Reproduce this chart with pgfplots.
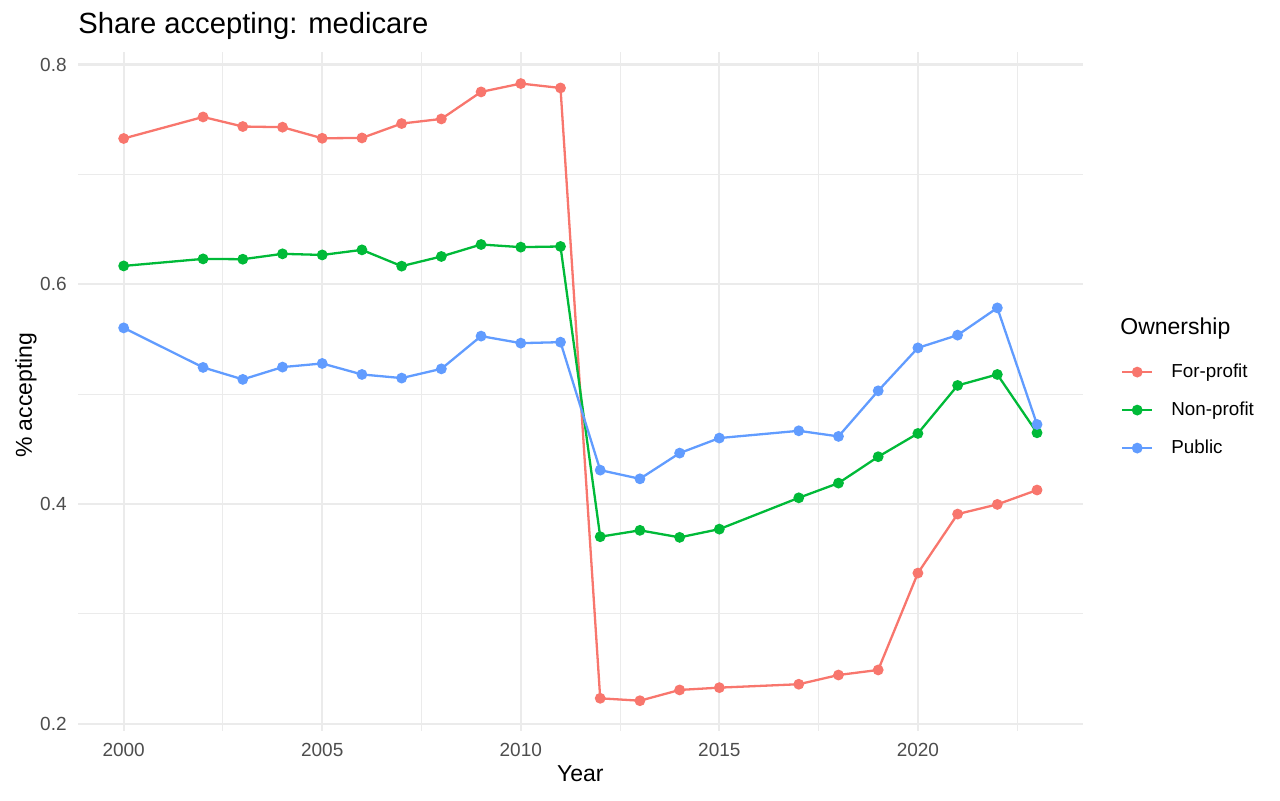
\documentclass[border=0pt]{standalone}
\usepackage{fontspec}
\setmainfont{Liberation Sans}
\usepackage{pgfplots}
\pgfplotsset{compat=1.18}

\definecolor{forprofit}{HTML}{F8766D}
\definecolor{nonprofit}{HTML}{00BA38}
\definecolor{public}{HTML}{619CFF}
\definecolor{gridgray}{HTML}{EBEBEB}
\definecolor{ticktext}{HTML}{4D4D4D}

\begin{document}
\begin{tikzpicture}
\path[use as bounding box] (-39pt,-34.65pt) rectangle (601pt,365.35pt);
\begin{axis}[
  at={(0,0)}, anchor=south west,
  scale only axis,
  width=502.35pt, height=339.5pt,
  xmin=1998.85, xmax=2024.15,
  ymin=0.1936, ymax=0.8117,
  xtick={2000,2005,2010,2015,2020},
  ytick={0.2,0.4,0.6,0.8},
  minor xtick={2002.5,2007.5,2012.5,2017.5,2022.5},
  minor ytick={0.3,0.5,0.7},
  grid=both,
  major grid style={gridgray, line width=1.1pt},
  minor grid style={gridgray, line width=0.55pt},
  axis line style={draw=none},
  major tick length=0pt, minor tick length=0pt,
  tick style={draw=none},
  /pgf/number format/assume math mode=true,
  /pgf/number format/1000 sep={},
  ticklabel style={font=\fontsize{9.5}{11}\selectfont, text=ticktext, inner sep=0pt},
  xticklabel style={anchor=north, yshift=-6pt},
  yticklabel style={anchor=east, xshift=-5.5pt},
  clip=false,
  legend style={draw=none, fill=none, at={(axis description cs:1.0378,0.542)},
    anchor=north west, inner sep=0pt, row sep=10pt, column sep=0pt,
    font=\fontsize{9.4}{11}\selectfont,
    nodes={inner sep=0pt, text height=7pt, text depth=2pt}},
  legend image code/.code={
    \draw[mark repeat=2,mark phase=2,#1] plot coordinates {(0pt,0pt) (7.5pt,0pt) (15pt,0pt)};
    \path (24pt,0pt);
  },
  legend cell align=left,
  every axis plot/.append style={line width=1.15pt, mark=*, mark size=2.1pt},
]

\addplot[forprofit, mark options={draw=none, fill=forprofit}] coordinates {
  (2000,0.7327) (2002,0.7523) (2003,0.7436) (2004,0.7430) (2005,0.7329)
  (2006,0.7332) (2007,0.7463) (2008,0.7505) (2009,0.7751) (2010,0.7827)
  (2011,0.7787) (2012,0.2231) (2013,0.2209) (2014,0.2307) (2015,0.2328)
  (2017,0.2359) (2018,0.2443) (2019,0.2489) (2020,0.3371) (2021,0.3908)
  (2022,0.3996) (2023,0.4127)
};
\addlegendentry{For-profit}

\addplot[nonprofit, mark options={draw=none, fill=nonprofit}] coordinates {
  (2000,0.6167) (2002,0.6231) (2003,0.6228) (2004,0.6277) (2005,0.6267)
  (2006,0.6313) (2007,0.6165) (2008,0.6253) (2009,0.6362) (2010,0.6338)
  (2011,0.6344) (2012,0.3702) (2013,0.3760) (2014,0.3696) (2015,0.3771)
  (2017,0.4056) (2018,0.4190) (2019,0.4430) (2020,0.4642) (2021,0.5079)
  (2022,0.5179) (2023,0.4648)
};
\addlegendentry{Non-profit}

\addplot[public, mark options={draw=none, fill=public}] coordinates {
  (2000,0.5603) (2002,0.5243) (2003,0.5134) (2004,0.5246) (2005,0.5279)
  (2006,0.5179) (2007,0.5146) (2008,0.5230) (2009,0.5528) (2010,0.5464)
  (2011,0.5473) (2012,0.4308) (2013,0.4229) (2014,0.4463) (2015,0.4600)
  (2017,0.4666) (2018,0.4615) (2019,0.5030) (2020,0.5421) (2021,0.5537)
  (2022,0.5785) (2023,0.4724)
};
\addlegendentry{Public}

% titles and axis labels
\node[anchor=base west, inner sep=0pt, font=\fontsize{14.6}{16}\selectfont]
  at ([yshift=9.35pt]axis description cs:0,1) {Share accepting: medicare};
\node[anchor=base, inner sep=0pt, font=\fontsize{11.5}{13}\selectfont]
  at ([yshift=-25.5pt]axis description cs:0.5,0) {Year};
\node[anchor=base, rotate=90, inner sep=0pt, font=\fontsize{11.5}{13}\selectfont]
  at ([xshift=-23pt]axis description cs:0,0.494) {\% accepting};
\node[anchor=base west, inner sep=0pt, font=\fontsize{11.5}{13}\selectfont]
  at (axis description cs:1.0371,0.5828) {Ownership};
\end{axis}
\end{tikzpicture}
\end{document}
